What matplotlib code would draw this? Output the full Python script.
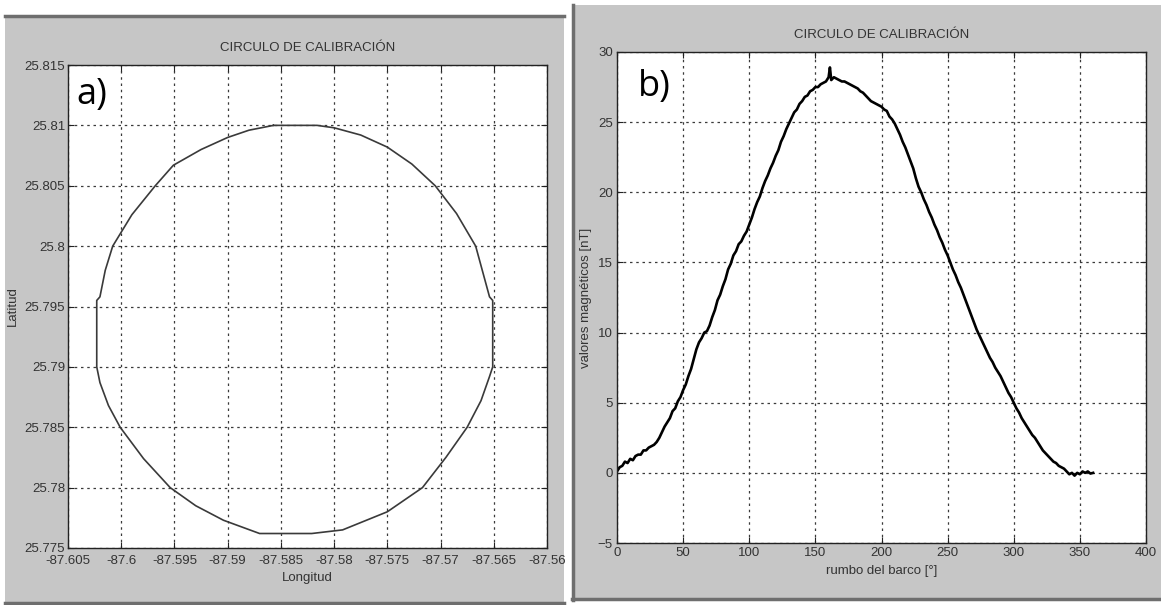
import matplotlib
matplotlib.use("Agg")
import matplotlib.pyplot as plt
from matplotlib.patches import Rectangle

# ---- data: panel a) calibration circle (longitude, latitude) ----
circ_lon = [-87.5857, -87.5816, -87.5800, -87.5775, -87.5750, -87.5727, -87.5705,
            -87.5685, -87.5667, -87.5654, -87.5651, -87.5651, -87.5654, -87.5662,
            -87.5675, -87.5695, -87.5717, -87.5750, -87.5792, -87.5821, -87.5870,
            -87.5904, -87.5930, -87.5954, -87.5979, -87.6001, -87.6012, -87.6020,
            -87.6023, -87.6023, -87.6020, -87.6015, -87.6008, -87.5990, -87.5968,
            -87.5951, -87.5925, -87.5900, -87.5880, -87.5857]
circ_lat = [25.8100, 25.8100, 25.8098, 25.8092, 25.8082, 25.8068, 25.8050,
            25.8027, 25.8000, 25.7958, 25.7955, 25.7900, 25.7892, 25.7872,
            25.7850, 25.7825, 25.7800, 25.7780, 25.7765, 25.7762, 25.7762,
            25.7773, 25.7785, 25.7800, 25.7824, 25.7850, 25.7868, 25.7887,
            25.7900, 25.7955, 25.7958, 25.7980, 25.8000, 25.8026, 25.8050,
            25.8067, 25.8080, 25.8090, 25.8096, 25.8100]

# ---- data: panel b) magnetic values vs ship heading ----
heading = [0, 2, 4, 6, 8, 10, 12, 14, 16, 18, 20, 22, 24, 26, 28, 30, 32, 34, 36, 38,
           40, 42, 44, 46, 48, 50, 52, 54, 56, 58, 60, 62, 64, 66, 68, 70, 72, 74, 76,
           78, 80, 82, 84, 86, 88, 90, 92, 94, 96, 98, 100, 102, 104, 106, 108, 110,
           112, 114, 116, 118, 120, 122, 124, 126, 128, 130, 132, 134, 136, 138, 140,
           142, 144, 146, 148, 150, 152, 154, 156, 158, 160, 161, 162, 164, 166, 168,
           170, 172, 174, 176, 178, 180, 182, 184, 186, 188, 190, 192, 194, 196, 198,
           200, 202, 204, 206, 208, 210, 212, 214, 216, 218, 220, 222, 224, 226, 228,
           230, 232, 234, 236, 238, 240, 242, 244, 246, 248, 250, 252, 254, 256, 258,
           260, 262, 264, 266, 268, 270, 272, 274, 276, 278, 280, 282, 284, 286, 288,
           290, 292, 294, 296, 298, 300, 302, 304, 306, 308, 310, 312, 314, 316, 318,
           320, 322, 324, 326, 328, 330, 332, 334, 336, 338, 340, 342, 344, 346, 348,
           350, 352, 354, 356, 358, 360]
mag = [0.1, 0.4, 0.5, 0.8, 0.7, 1.0, 0.9, 1.2, 1.3, 1.3, 1.6, 1.6, 1.8, 1.9, 2.0,
       2.2, 2.5, 2.9, 3.3, 3.6, 3.9, 4.4, 4.6, 5.1, 5.4, 5.9, 6.3, 6.9, 7.4, 8.1,
       8.8, 9.3, 9.6, 10.0, 10.1, 10.5, 11.1, 11.6, 12.3, 12.7, 13.3, 13.8, 14.5,
       14.9, 15.5, 15.8, 16.3, 16.5, 16.9, 17.2, 17.7, 18.2, 18.8, 19.3, 19.7, 20.3,
       20.8, 21.2, 21.7, 22.1, 22.6, 23.0, 23.6, 24.0, 24.5, 24.9, 25.3, 25.7, 25.9,
       26.3, 26.5, 26.8, 26.9, 27.2, 27.3, 27.5, 27.5, 27.7, 27.8, 27.9, 28.2, 28.9,
       28.0, 28.2, 28.1, 28.0, 27.9, 27.9, 27.8, 27.7, 27.6, 27.5, 27.4, 27.2, 27.1,
       26.9, 26.7, 26.5, 26.4, 26.3, 26.2, 26.1, 25.9, 25.8, 25.4, 25.2, 24.9, 24.5,
       24.1, 23.6, 23.2, 22.7, 22.2, 21.7, 21.0, 20.4, 20.0, 19.5, 19.1, 18.6, 18.2,
       17.7, 17.3, 16.8, 16.4, 15.9, 15.5, 15.0, 14.5, 14.1, 13.6, 13.2, 12.7, 12.2,
       11.7, 11.2, 10.7, 10.2, 9.8, 9.4, 9.0, 8.6, 8.2, 7.9, 7.5, 7.2, 6.9, 6.5, 6.1,
       5.7, 5.4, 5.0, 4.6, 4.3, 3.9, 3.6, 3.3, 3.0, 2.7, 2.5, 2.2, 1.9, 1.6, 1.4,
       1.2, 1.0, 0.8, 0.7, 0.5, 0.4, 0.3, 0.1, -0.1, 0.0, -0.2, 0.0, -0.1, 0.1, 0.0,
       0.1, -0.05, 0.0]

xt_a = [-87.605, -87.6, -87.595, -87.59, -87.585, -87.58, -87.575, -87.57, -87.565, -87.56]
xl_a = ["-87.605", "-87.6", "-87.595", "-87.59", "-87.585", "-87.58", "-87.575",
        "-87.57", "-87.565", "-87.56"]
yt_a = [25.775, 25.78, 25.785, 25.79, 25.795, 25.8, 25.805, 25.81, 25.815]
yl_a = ["25.775", "25.78", "25.785", "25.79", "25.795", "25.8", "25.805", "25.81", "25.815"]
xt_b = [0, 50, 100, 150, 200, 250, 300, 350, 400]
yt_b = [-5, 0, 5, 10, 15, 20, 25, 30]

W, H = 1161, 605
FONT = "Liberation Sans"
plt.rcParams["font.family"] = [FONT, "DejaVu Sans"]

fig = plt.figure(figsize=(W / 100, H / 100), dpi=100, facecolor="white")

GRAY = "#c6c6c6"
DARK = "#6e6e6e"
TXT = "#333333"

def px_rect(x0, y0, x1, y1):
    return (x0 / W, 1 - y1 / H, (x1 - x0) / W, (y1 - y0) / H)

# background layer (pixel coordinates, y downward)
bg = fig.add_axes([0, 0, 1, 1], zorder=-5)
bg.set_xlim(0, W)
bg.set_ylim(H, 0)
bg.axis("off")
for (x0, y0, x1, y1) in [(5, 15, 564, 604), (572, 5, 1161, 600)]:
    bg.add_patch(Rectangle((x0, y0), x1 - x0, y1 - y0, facecolor=GRAY, edgecolor="none"))
bg.plot([5, 564], [16, 16], color=DARK, lw=2.5)
bg.plot([5, 564], [603, 603], color=DARK, lw=2.5)
bg.plot([573, 573], [5, 600], color=DARK, lw=2.5)
bg.plot([572, 1161], [599, 599], color=DARK, lw=2.5)

def style(ax):
    ax.set_facecolor("white")
    for s in ax.spines.values():
        s.set_color("#222222")
        s.set_linewidth(1.0)
    ax.tick_params(direction="in", top=True, right=True, length=4, width=0.8,
                   labelsize=9.5, labelcolor=TXT, colors="#222222", pad=3)
    for lab in ax.get_xticklabels() + ax.get_yticklabels():
        lab.set_color(TXT)
    ax.grid(True, color="#3a3a3a", linestyle=(0, (2, 3)), linewidth=0.9)
    ax.set_axisbelow(True)

# ---- panel a ----
l, b, w, h = px_rect(68, 65, 547, 548)
ax1 = fig.add_axes([l, b, w, h], zorder=2)
ax1.plot(circ_lon, circ_lat, color="#3a3a3a", lw=1.2)
ax1.set_xlim(-87.605, -87.56)
ax1.set_ylim(25.775, 25.815)
ax1.set_xticks(xt_a)
ax1.set_xticklabels(xl_a)
ax1.set_yticks(yt_a)
ax1.set_yticklabels(yl_a)
style(ax1)
ax1.tick_params(axis="y", pad=2)
ax1.tick_params(axis="x", pad=5)
ax1.set_title("CIRCULO DE CALIBRACIÓN", fontsize=9.5, color=TXT, pad=10)
ax1.set_xlabel("Longitud", fontsize=9.5, color=TXT, labelpad=4)
ax1.set_ylabel("Latitud", fontsize=9.5, color=TXT, labelpad=4)
ax1.text(0.018, 0.975, "a)", transform=ax1.transAxes, fontsize=26,
         family=["Open Sans", "DejaVu Sans"], va="top", ha="left", color="black")

# ---- panel b ----
l, b, w, h = px_rect(617, 52, 1146, 543)
ax2 = fig.add_axes([l, b, w, h], zorder=2)
ax2.plot(heading, mag, color="black", lw=1.9)
ax2.set_xlim(0, 400)
ax2.set_ylim(-5, 30)
ax2.set_xticks(xt_b)
ax2.set_yticks(yt_b)
style(ax2)
ax2.set_title("CIRCULO DE CALIBRACIÓN", fontsize=9.5, color=TXT, pad=10)
ax2.set_xlabel("rumbo del barco [°]", fontsize=9.5, color=TXT, labelpad=4)
ax2.set_ylabel("valores magnéticos [nT]", fontsize=9.5, color=TXT, labelpad=4)
ax2.text(0.04, 0.965, "b)", transform=ax2.transAxes, fontsize=26,
         family=["Open Sans", "DejaVu Sans"], va="top", ha="left", color="black")

fig.savefig("out.png", dpi=100, facecolor="white")
